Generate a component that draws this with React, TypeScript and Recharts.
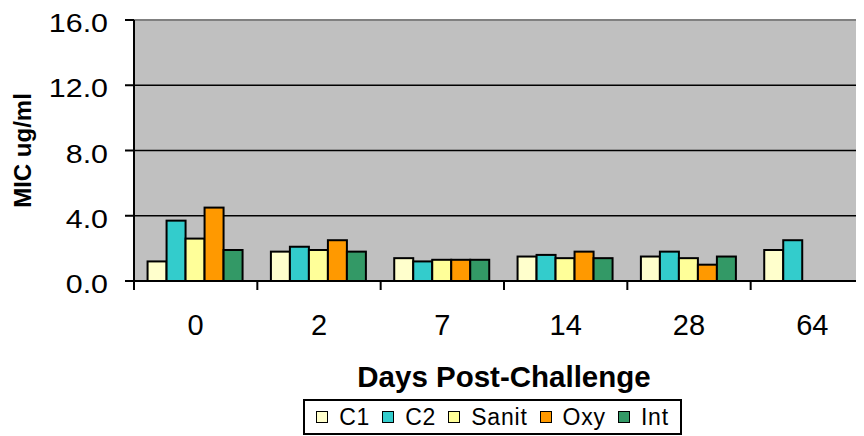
import { Bar, BarChart, CartesianGrid, Legend, ReferenceLine, XAxis, YAxis } from "recharts"

const days = ["0", "2", "7", "14", "28", "64"]
const c1 = [1.2, 1.8, 1.4, 1.5, 1.5, 1.9]
const c2 = [3.7, 2.1, 1.2, 1.6, 1.8, 2.5]
const sanit = [2.6, 1.9, 1.3, 1.4, 1.4, null]
const oxy = [4.5, 2.5, 1.3, 1.8, 1.0, null]
const int = [1.9, 1.8, 1.3, 1.4, 1.5, null]
const yTicks = [0, 4, 8, 12, 16]

const series = [
  { key: "C1", values: c1, color: "#FFFFCC" },
  { key: "C2", values: c2, color: "#33CCCC" },
  { key: "Sanit", values: sanit, color: "#FFFF99" },
  { key: "Oxy", values: oxy, color: "#FF9900" },
  { key: "Int", values: int, color: "#339966" },
]

const data = days.map((day, i) => {
  const row: Record<string, string | number | null> = { day }
  series.forEach(s => { row[s.key] = s.values[i] })
  return row
})

const FONT = "'Liberation Sans', Arial, sans-serif"

function DayTick(props: any) {
  const { x, y, payload } = props
  const half = payload.offset ?? 61.7
  return (
    <g>
      <line x1={x - half} y1={y} x2={x - half} y2={y + 9} stroke="#000" strokeWidth={2} />
      <text x={x} y={y + 54} textAnchor="middle" fontSize={29} fontFamily={FONT} fill="#000">
        {payload.value}
      </text>
    </g>
  )
}

function MicTick(props: any) {
  const { x, y, payload } = props
  return (
    <text
      transform={`translate(${x} ${y + 12}) scale(1.17 1)`}
      textAnchor="end"
      fontSize={26}
      fontFamily={FONT}
      fill="#000"
    >
      {Number(payload.value).toFixed(1)}
    </text>
  )
}

// outlined bar, drawn from the geometry recharts hands over
function OutlinedBar(props: any) {
  const { x, y, width, height, fill } = props
  if (!height || height <= 0) return null
  return <rect x={x} y={y} width={width} height={height} fill={fill} stroke="#000" strokeWidth={2} />
}

function LegendBox() {
  return (
    <div
      style={{
        border: "2px solid #000",
        boxSizing: "border-box",
        height: 36,
        display: "flex",
        alignItems: "center",
        justifyContent: "center",
        fontFamily: FONT,
        fontSize: 23,
        letterSpacing: 0.8,
        background: "#fff",
      }}
    >
      {series.map(s => (
        <span key={s.key} style={{ display: "flex", alignItems: "center", margin: "0 6px" }}>
          <span
            style={{
              display: "inline-block",
              width: 10,
              height: 10,
              background: s.color,
              border: "1.5px solid #000",
              marginRight: 11,
            }}
          />
          {s.key}
        </span>
      ))}
    </div>
  )
}

export default function App() {
  return (
    <div style={{ width: 856, height: 428, overflow: "hidden", background: "#fff" }}>
      <BarChart
        width={880}
        height={428}
        data={data}
        margin={{ top: 12, right: 14, left: 0, bottom: 59 }}
        barCategoryGap="11%"
        barGap={0}
      >
        <CartesianGrid
          vertical={false}
          horizontalValues={[4, 8, 12]}
          stroke="#000"
          strokeWidth={1.5}
          fill="#C0C0C0"
          fillOpacity={1}
        />
        <ReferenceLine y={16} stroke="#808080" strokeWidth={2} />
        <YAxis
          width={126}
          domain={[0, 16]}
          ticks={yTicks}
          interval={0}
          axisLine={{ stroke: "#000", strokeWidth: 2 }}
          tickLine={{ stroke: "#000", strokeWidth: 2 }}
          tickSize={9}
          tickMargin={17}
          tick={<MicTick />}
          label={{
            content: ({ viewBox }: any) => (
              <text
                x={viewBox.x + 14}
                y={viewBox.y + viewBox.height / 2}
                transform={`rotate(-90 ${viewBox.x + 14} ${viewBox.y + viewBox.height / 2})`}
                textAnchor="middle"
                dominantBaseline="central"
                fontSize={24}
                fontWeight="bold"
                fontFamily={FONT}
                fill="#000"
              >
                MIC ug/ml
              </text>
            ),
          }}
        />
        <XAxis
          dataKey="day"
          height={60}
          interval={0}
          tickSize={0}
          tickMargin={0}
          tickLine={false}
          axisLine={{ stroke: "#000", strokeWidth: 2 }}
          tick={<DayTick />}
          label={{
            content: ({ viewBox }: any) => (
              <text
                x={viewBox.x + viewBox.width / 2}
                y={viewBox.y + 106}
                textAnchor="middle"
                fontSize={29.5}
                fontWeight="bold"
                fontFamily={FONT}
                fill="#000"
              >
                Days Post-Challenge
              </text>
            ),
          }}
        />
        <Legend
          content={() => <LegendBox />}
          wrapperStyle={{ left: 295, top: 391, width: 379, height: 36 }}
        />
        {series.map(s => (
          <Bar
            key={s.key}
            dataKey={s.key}
            fill={s.color}
            shape={<OutlinedBar />}
            isAnimationActive={false}
          />
        ))}
      </BarChart>
    </div>
  )
}
